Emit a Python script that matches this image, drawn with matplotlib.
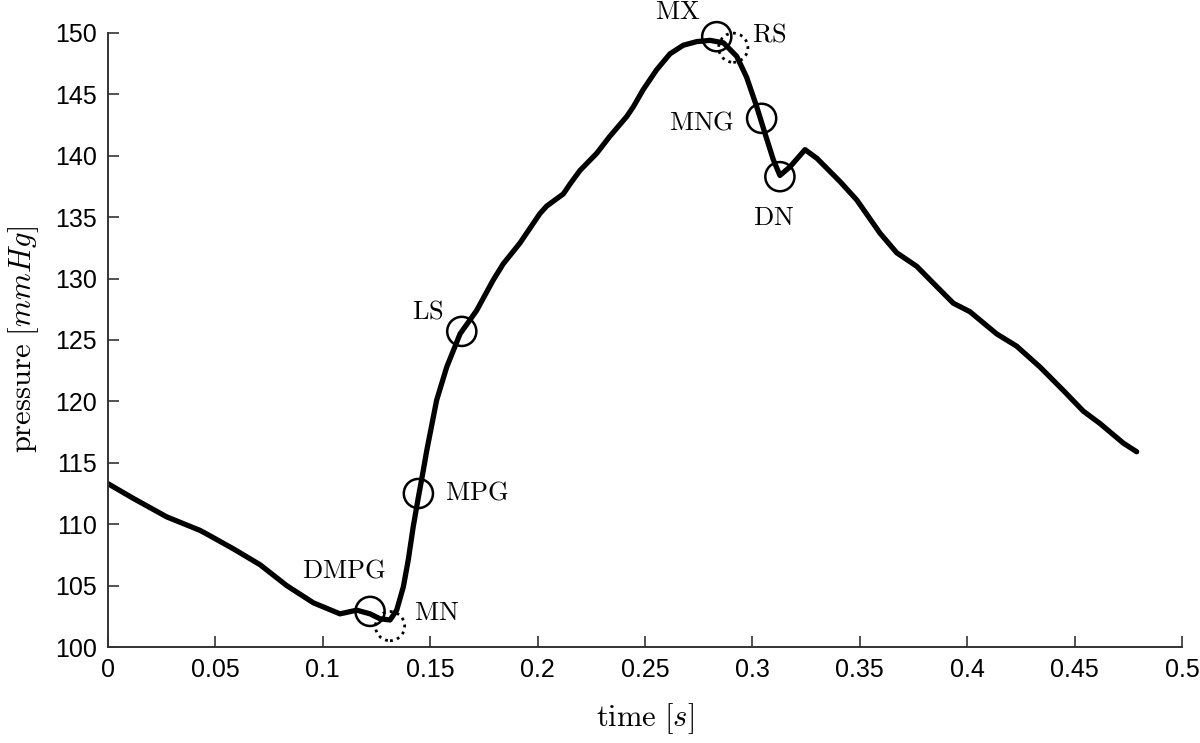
import matplotlib
matplotlib.use('Agg')
import matplotlib.pyplot as plt

plt.rcParams['mathtext.fontset'] = 'cm'
plt.rcParams['font.family'] = ['Liberation Sans', 'DejaVu Sans']

# pressure waveform
time_s = [0.0, 0.0118, 0.0273, 0.0428, 0.046, 0.0583, 0.0708, 0.0832, 0.0956,
          0.108, 0.1158, 0.122, 0.1266, 0.1313, 0.1344, 0.1375, 0.1398, 0.1421,
          0.1445, 0.1468, 0.1484, 0.153, 0.1577, 0.1639, 0.1716, 0.1794, 0.1840,
          0.1918, 0.2011, 0.2042, 0.212, 0.2151, 0.2197, 0.2275, 0.2337, 0.2415,
          0.2446, 0.2492, 0.2554, 0.2616, 0.2678, 0.2741, 0.2803, 0.2865, 0.2927,
          0.2973, 0.302, 0.3059, 0.3097, 0.3128, 0.3175, 0.3245, 0.330, 0.3408,
          0.3486, 0.3594, 0.3672, 0.3765, 0.3827, 0.3935, 0.4013, 0.4137, 0.423,
          0.4339, 0.4447, 0.4541, 0.4618, 0.4727, 0.4789]
pressure = [113.3, 112.1, 110.6, 109.5, 109.2, 108.0, 106.7, 105.0, 103.6,
            102.7, 103.0, 102.7, 102.3, 102.2, 103.0, 104.9, 107.1, 109.8,
            112.2, 114.4, 116.0, 120.1, 122.8, 125.5, 127.4, 129.9, 131.2,
            132.9, 135.3, 135.9, 136.9, 137.7, 138.8, 140.2, 141.6, 143.2,
            144.0, 145.4, 147.0, 148.3, 149.0, 149.3, 149.4, 149.2, 148.1,
            146.4, 144.0, 141.8, 139.7, 138.4, 139.1, 140.5, 139.8, 137.9,
            136.4, 133.7, 132.1, 131.0, 129.9, 128.0, 127.3, 125.5, 124.5,
            122.8, 120.9, 119.2, 118.2, 116.6, 115.9]

# feature points (solid circles)
feat_names = ['DMPG', 'MPG', 'LS', 'MX', 'MNG', 'DN']
feat_t = [0.122, 0.1445, 0.1647, 0.2834, 0.3043, 0.3128]
feat_p = [102.9, 112.5, 125.7, 149.7, 143.05, 138.3]
feat_lbl = [(344, 570), (477, 493), (428, 312), (678, 12), (702, 123), (774, 218)]

# feature points (dotted circles)
dot_names = ['MN', 'RS']
dot_t = [0.1313, 0.2911]
dot_p = [101.7, 148.8]
dot_lbl = [(437, 613), (769, 35)]

fig = plt.figure(figsize=(12, 7.43), dpi=100)
ax = fig.add_axes([0.09, 0.1292, 0.895, 0.8264])

ax.plot(time_s, pressure, color='black', lw=3.8, solid_joinstyle='round',
        solid_capstyle='round')
ax.scatter(feat_t, feat_p, s=21 ** 2, facecolors='none', edgecolors='black',
           linewidths=1.8, zorder=3, clip_on=False)
ax.scatter(dot_t, dot_p, s=21 ** 2, facecolors='none', edgecolors='black',
           linewidths=2.0, linestyles=(0, (1, 1.6)), zorder=3, clip_on=False)

H = 743
for name, (px, py) in zip(feat_names + dot_names, feat_lbl + dot_lbl):
    fig.text(px / 1200, 1 - py / H, r'$\mathrm{' + name + '}$', fontsize=19,
             ha='center', va='center')

ax.set_xlim(0, 0.5)
ax.set_ylim(100, 150)
ax.set_xticks([0, 0.05, 0.1, 0.15, 0.2, 0.25, 0.3, 0.35, 0.4, 0.45, 0.5])
ax.set_xticklabels(['0', '0.05', '0.1', '0.15', '0.2', '0.25', '0.3', '0.35',
                    '0.4', '0.45', '0.5'])
ax.set_yticks(range(100, 151, 5))
ax.tick_params(direction='in', length=8, width=1.2, labelsize=18,
               color='#333333', pad=8)
for s in ['top', 'right']:
    ax.spines[s].set_visible(False)
for s in ['left', 'bottom']:
    ax.spines[s].set_linewidth(1.4)
    ax.spines[s].set_color('#333333')

ax.set_xlabel(r'$\mathrm{time}\ [s]$', fontsize=22, labelpad=14)
ax.set_ylabel(r'$\mathrm{pressure}\ [mmHg]$', fontsize=22, labelpad=10)

fig.savefig('out.png', dpi=100)
